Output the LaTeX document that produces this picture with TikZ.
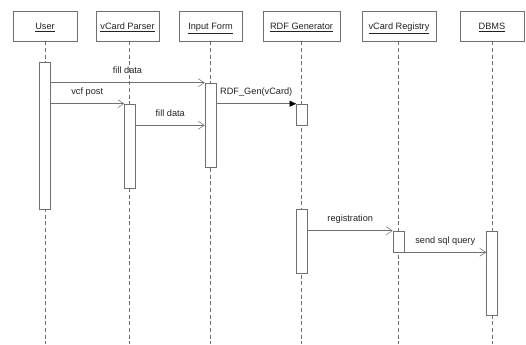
\documentclass[tikz,border=0pt]{standalone}
\usepackage{fontspec}
\setmainfont{Liberation Sans}
\usetikzlibrary{positioning,calc,arrows.meta}
\definecolor{linegray}{RGB}{112,112,112}
\definecolor{textgray}{RGB}{34,34,34}

\begin{document}
\begin{tikzpicture}[
            x=0.75pt, y=-0.75pt,
            font=\fontsize{6.9}{8.5}\selectfont,
            head/.style={rectangle,draw=linegray,fill=white,text=textgray,minimum height=22.5pt,inner sep=0pt,text height=6pt,text depth=1pt},
            act/.style={rectangle,draw=linegray,fill=white,minimum width=8.25pt,inner sep=0pt},
            lifeline/.style={draw=linegray,dash pattern=on 3pt off 2pt},
            msg/.style={draw=linegray,-{Straight Barb[length=4.5pt,width=6pt,color=linegray]}},
            call/.style={draw=linegray,-{Triangle[length=5pt,width=4.5pt,color=black]}},
            lbl/.style={midway,anchor=base,yshift=6.6pt,inner sep=0pt,text=textgray},
        ]
            \useasboundingbox (0,0) rectangle (526,344);
            \coordinate (bot) at (0,344);

            % object heads
            \node[head,minimum width=48pt] (user) at (45,26) {\underline{User}};
            \node[head,minimum width=47.25pt] (parser) at (127.5,26) {\underline{vCard Parser}};
            \node[head,minimum width=47.25pt] (form) at (210.5,26) {\underline{Input Form}};
            \node[head,minimum width=57.75pt] (gen) at (301.5,26) {\underline{RDF Generator}};
            \node[head,minimum width=55.5pt] (reg) at (399,26) {\underline{vCard Registry}};
            \node[head,minimum width=48pt] (dbms) at (492,26) {\underline{DBMS}};

            % lifelines
            \draw[lifeline] (user.south) -- (user.south |- bot);
            \draw[lifeline] ([xshift=1.1pt]parser.south) -- ([xshift=1.1pt]parser.south |- bot);
            \draw[lifeline] (form.south) -- (form.south |- bot);
            \draw[lifeline] (gen.south) -- (gen.south |- bot);
            \draw[lifeline] ([xshift=-0.75pt]reg.south) -- ([xshift=-0.75pt]reg.south |- bot);
            \draw[lifeline] (dbms.south) -- (dbms.south |- bot);

            % activations
            \node[act,minimum height=110.25pt] (userA) at (44.5,135.5) {};
            \node[act,minimum height=63pt] (parserA) at (130,146) {};
            \node[act,minimum height=63pt] (formA) at (210.5,125) {};
            \node[act,minimum height=15.75pt] (genA) at (302,114.5) {};
            \node[act,minimum height=48pt] (genB) at (302,241) {};
            \node[act,minimum height=15.75pt] (regA) at (398.5,241.5) {};
            \node[act,minimum height=63pt] (dbmsA) at (492,273) {};

            % messages
            \draw[msg] (userA.east |- formA.north) -- node[lbl] {fill data} (formA.north west);
            \draw[msg] (userA.east |- parserA.north) -- node[lbl] {vcf post} (parserA.north west);
            \draw[msg] (parserA.east |- genA.south) -- node[lbl] {fill data} (formA.west |- genA.south);
            \draw[call] (formA.east |- genA.north) -- node[lbl] {RDF\_Gen(vCard)} (genA.north west);
            \draw[msg] (genB.east |- regA.north) -- node[lbl] {registration} (regA.north west);
            \draw[msg] (regA.south east) -- node[lbl] {send sql query} (dbmsA.west |- regA.south);
        \end{tikzpicture}
\end{document}
